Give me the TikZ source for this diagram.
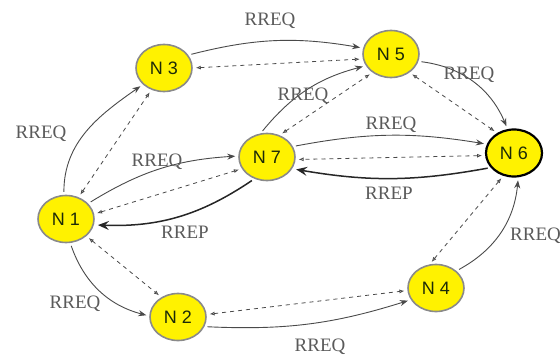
\documentclass[tikz,border=0pt]{standalone}
\usepackage{fontspec}
\setmainfont{Liberation Serif}
\newfontfamily\nodefont{Liberation Sans}
\usetikzlibrary{arrows.meta,shapes.geometric}
\definecolor{nodefill}{HTML}{FFF200}
\definecolor{ringgray}{HTML}{8A8A8A}
\definecolor{edgegray}{HTML}{4A4A4A}
\definecolor{labelgray}{HTML}{5A5A5A}
\definecolor{nodetext}{HTML}{1C2A08}
\tikzset{
  host/.style={ellipse, fill=nodefill, draw=ringgray, line width=1.6pt,
    minimum width=56pt, minimum height=47pt, inner sep=0pt,
    font=\nodefont\fontsize{18}{18}\selectfont, text=nodetext},
  dest/.style={host, draw=black, line width=2.2pt},
  req/.style={draw=edgegray, line width=0.9pt, shorten >=3pt, shorten <=3pt,
    -{Stealth[length=8pt,width=6pt]}},
  rep/.style={draw=black!85, line width=1.5pt, shorten >=4pt, shorten <=3pt,
    -{Stealth[length=11pt,width=9pt,inset=4pt]}},
  link/.style={draw=edgegray, line width=0.8pt, dash pattern=on 4pt off 4pt,
    shorten >=3pt, shorten <=3pt,
    {Latex[open,length=5pt,width=4pt]}-{Latex[open,length=5pt,width=4pt]}},
  tag/.style={text=labelgray, font=\fontsize{19}{19}\selectfont, inner sep=0pt}
}
\begin{document}
\begin{tikzpicture}[x=1pt,y=-1pt]
\useasboundingbox (0,0) rectangle (560,356);

% hosts
\node[host] (n1) at (66,219) {N 1};
\node[host] (n2) at (178,317) {N 2};
\node[host] (n3) at (164,68) {N 3};
\node[host] (n4) at (436,288) {N 4};
\node[host] (n5) at (391,54) {N 5};
\node[dest] (n6) at (514,153) {N 6};
\node[host] (n7) at (267,157) {N 7};

% links between neighbours
\draw[link] (n1.60) -- (n3.240);
\draw[link] (n3.0) -- (n5.190);
\draw[link] (n1.10) -- (n7.205);
\draw[link] (n7.60) -- (n5.225);
\draw[link] (n6.185) -- (n7.355);
\draw[link] (n5.315) -- (n6.130);
\draw[link] (n1.320) -- (n2.130);
\draw[link] (n2.5) -- (n4.185);
\draw[link] (n4.105) -- (n6.245);

% route requests
\draw[req] (n1.95) to[out=90,in=215] (n3.218);
\draw[req] (n3.28) to[bend left=12] (n5.168);
\draw[req] (n1.35) to[bend left=14] (n7.178);
\draw[req] (n7.105) to[bend left=18] (n5.205);
\draw[req] (n7.22) to[bend left=10] (n6.162);
\draw[req] (n5.345) to[bend left=30] (n6.105);
\draw[req] (n1.280) to[bend right=28] (n2.178);
\draw[req] (n2.340) to[bend right=10] (n4.205);
\draw[req] (n4.40) to[bend right=28] (n6.280);

% route replies
\draw[rep] (n7.240) to[bend left=18] (n1.348);
\draw[rep] (n6.212) to[bend left=10] (n7.335);

% labels
\node[tag] (l13) at (41,134) {RREQ};
\node[tag] (l35) at (270,21) {RREQ};
\node[tag] (l17) at (157,162) {RREQ};
\node[tag] (l75) at (303,96) {RREQ};
\node[tag] (l76) at (391,125) {RREQ};
\node[tag] (l56) at (469,75) {RREQ};
\node[tag] (l12) at (75,304) {RREQ};
\node[tag] (l24) at (320,347) {RREQ};
\node[tag, anchor=west] (l46) at (510,236) {RREQ};
\node[tag] (p71) at (185,232) {RREP};
\node[tag] (p67) at (389,193) {RREP};
\end{tikzpicture}
\end{document}
